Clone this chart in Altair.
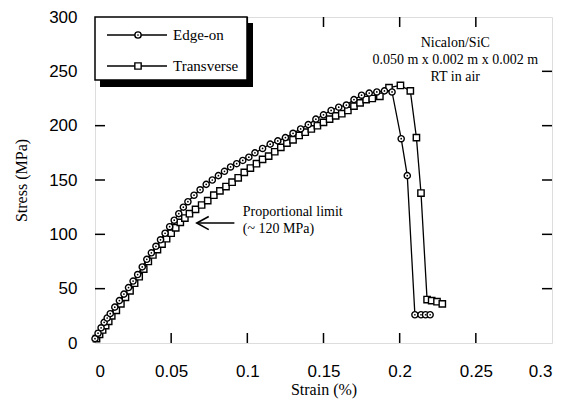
import altair as alt
import pandas as pd

# ---------------- data ----------------
edge_strain = [0.000, 0.002, 0.004, 0.006, 0.008, 0.010, 0.013, 0.016, 0.019, 0.022,
               0.025, 0.028, 0.031, 0.034, 0.037, 0.040, 0.043, 0.046, 0.049, 0.052,
               0.055, 0.058, 0.061, 0.065, 0.069, 0.073, 0.077, 0.081, 0.085, 0.089,
               0.093, 0.097, 0.101, 0.105, 0.110, 0.115, 0.120, 0.125, 0.130, 0.135,
               0.140, 0.145, 0.150, 0.155, 0.160, 0.165, 0.170, 0.175, 0.180, 0.185,
               0.190, 0.195, 0.201, 0.205, 0.210, 0.214, 0.217, 0.220]
edge_stress = [4, 9, 14, 19, 23, 27, 33, 39, 45, 51,
               57, 63, 70, 77, 83, 89, 95, 101, 107, 113,
               119, 125, 130, 136, 141, 146, 150, 154, 158, 162,
               165, 168, 171, 175, 179, 183, 186, 189, 193, 197,
               201, 206, 210, 214, 217, 219, 224, 228, 230, 231,
               232, 231, 188, 154, 26, 26, 26, 26]

trans_strain = [0.001, 0.003, 0.005, 0.007, 0.009, 0.011, 0.014, 0.017, 0.020, 0.023,
                0.026, 0.029, 0.032, 0.035, 0.038, 0.041, 0.044, 0.047, 0.050, 0.053,
                0.056, 0.059, 0.062, 0.066, 0.070, 0.074, 0.078, 0.082, 0.086, 0.090,
                0.094, 0.098, 0.102, 0.106, 0.110, 0.114, 0.118, 0.122, 0.126, 0.130,
                0.134, 0.138, 0.142, 0.146, 0.150, 0.154, 0.158, 0.162, 0.166, 0.170,
                0.174, 0.178, 0.182, 0.187, 0.193, 0.2005, 0.207, 0.211, 0.214, 0.218,
                0.221, 0.2245, 0.228]
trans_stress = [4, 8, 12, 16, 20, 25, 30, 36, 42, 48,
                55, 61, 68, 75, 81, 86, 91, 96, 101, 106,
                111, 115, 119, 123, 127, 131, 136, 140, 144, 148,
                152, 157, 161, 165, 169, 172, 176, 180, 184, 187,
                191, 194, 197, 200, 203, 206, 209, 211, 214, 218,
                221, 224, 225, 227, 235, 237, 232, 189, 138, 40,
                39, 38, 36]

series_names = ["Edge-on", "Transverse"]
x_tick_labels = [0, 0.05, 0.1, 0.15, 0.2, 0.25, 0.3]
y_tick_labels = [0, 50, 100, 150, 200, 250, 300]
x_inner_ticks = [0.05, 0.1, 0.15, 0.2, 0.25]
y_inner_ticks = [50, 100, 150, 200, 250]
info_lines = ["Nicalon/SiC", "0.050 m x 0.002 m x 0.002 m", "RT in air"]
info_anchor = [0.2365, 276.0]         # strain, stress of the first line (centre)
note_lines = ["Proportional limit", "(~ 120 MPa)"]
note_anchor = [0.097, 120.6]          # strain, stress of the first line (left edge)
arrow_from = [0.0915, 110.4]
arrow_to = [0.0668, 110.4]

W, H = 457, 326
SERIF = "Liberation Serif"
SANS = "Liberation Sans"

edge_df = pd.DataFrame({"strain": edge_strain, "stress": edge_stress,
                        "i": range(len(edge_strain))})
trans_df = pd.DataFrame({"strain": trans_strain, "stress": trans_stress,
                         "i": range(len(trans_strain))})

xscale = alt.Scale(domain=[0, 0.3], nice=False, zero=False)
yscale = alt.Scale(domain=[0, 300], nice=False, zero=False)
xaxis = alt.Axis(values=x_tick_labels, format=".2~f", ticks=False, domain=False,
                 grid=False, labelFont=SANS, labelFontSize=17, labelColor="black",
                 labelPadding=20, title="Strain (%)", titleFont=SERIF,
                 titleFontSize=16, titleFontWeight="normal", titleColor="black",
                 titlePadding=2)
yaxis = alt.Axis(values=y_tick_labels, ticks=False, domain=False, grid=False,
                 labelFont=SANS, labelFontSize=17, labelColor="black",
                 labelPadding=18, title="Stress (MPa)", titleFont=SERIF,
                 titleFontSize=16, titleFontWeight="normal", titleColor="black",
                 titlePadding=19)


def X(f):
    return alt.X(f, type="quantitative", scale=xscale, axis=xaxis)


def Y(f):
    return alt.Y(f, type="quantitative", scale=yscale, axis=yaxis)


one = alt.Data(values=[{"a": 1}])

# ---------- data series ----------
trans_line = alt.Chart(trans_df).mark_line(color="black", strokeWidth=1.3).encode(
    x=X("strain"), y=Y("stress"), order="i:Q")
trans_pts = alt.Chart(trans_df).mark_point(
    shape="square", filled=True, fill="white", stroke="black", strokeWidth=1.4,
    size=40, opacity=1).encode(x=X("strain"), y=Y("stress"))

edge_line = alt.Chart(edge_df).mark_line(color="black", strokeWidth=1.3).encode(
    x=X("strain"), y=Y("stress"), order="i:Q")
edge_pts = alt.Chart(edge_df).mark_point(
    shape="circle", filled=True, fill="white", stroke="black", strokeWidth=1.4,
    size=38, opacity=1).encode(x=X("strain"), y=Y("stress"))
edge_dots = alt.Chart(edge_df).mark_point(
    shape="circle", filled=True, color="black", size=3, opacity=1).encode(
    x=X("strain"), y=Y("stress"))

# ---------- inward ticks on all four sides ----------
xt = pd.DataFrame({"v": x_inner_ticks})
yt = pd.DataFrame({"v": y_inner_ticks})
tick_style = dict(color="black", strokeWidth=1.5)
bottom_ticks = alt.Chart(xt).mark_rule(**tick_style).encode(
    x=X("v"), y=alt.value(H), y2=alt.value(H - 10))
top_ticks = alt.Chart(xt).mark_rule(**tick_style).encode(
    x=X("v"), y=alt.value(0), y2=alt.value(10))
left_ticks = alt.Chart(yt).mark_rule(**tick_style).encode(
    y=Y("v"), x=alt.value(0), x2=alt.value(10))
right_ticks = alt.Chart(yt).mark_rule(**tick_style).encode(
    y=Y("v"), x=alt.value(W), x2=alt.value(W - 10))

# ---------- legend box with drop shadow ----------
shadow = alt.Chart(one).mark_rect(color="black").encode(
    x=alt.value(5), x2=alt.value(158), y=alt.value(6), y2=alt.value(70))
box = alt.Chart(one).mark_rect(fill="white", stroke="black", strokeWidth=1.5).encode(
    x=alt.value(0), x2=alt.value(152), y=alt.value(0), y2=alt.value(63))

legend_layers = []
for name, ly, shp in [(series_names[0], 18, "circle"), (series_names[1], 49, "square")]:
    legend_layers.append(alt.Chart(one).mark_rule(color="black", strokeWidth=1.3).encode(
        x=alt.value(12), x2=alt.value(72), y=alt.value(ly)))
    legend_layers.append(alt.Chart(one).mark_point(
        shape=shp, filled=True, fill="white", stroke="black", strokeWidth=1.4,
        size=40, opacity=1).encode(x=alt.value(43), y=alt.value(ly)))
    if shp == "circle":
        legend_layers.append(alt.Chart(one).mark_point(
            shape="circle", filled=True, color="black", size=3, opacity=1).encode(
            x=alt.value(43), y=alt.value(ly)))
    legend_layers.append(alt.Chart(one).mark_text(
        align="left", baseline="middle", font=SERIF, fontSize=15, color="black").encode(
        x=alt.value(78), y=alt.value(ly), text=alt.value(name)))

# ---------- annotations ----------
info = alt.Chart(pd.DataFrame({"strain": [info_anchor[0]], "stress": [info_anchor[1]]})).mark_text(
    align="center", baseline="middle", font=SERIF, fontSize=14, lineHeight=17,
    color="black").encode(x=X("strain"), y=Y("stress"), text=alt.value(info_lines))

note = alt.Chart(pd.DataFrame({"strain": [note_anchor[0]], "stress": [note_anchor[1]]})).mark_text(
    align="left", baseline="middle", font=SERIF, fontSize=14, lineHeight=17,
    color="black").encode(x=X("strain"), y=Y("stress"), text=alt.value(note_lines))

arrow_df = pd.DataFrame({"strain": [arrow_from[0]], "stress": [arrow_from[1]],
                         "strain2": [arrow_to[0]]})
arrow_shaft = alt.Chart(arrow_df).mark_rule(color="black", strokeWidth=1.5).encode(
    x=X("strain"), x2="strain2", y=Y("stress"))
arrow_head = alt.Chart(pd.DataFrame({"strain": [arrow_to[0]], "stress": [arrow_to[1]]})).mark_point(
    shape="M 1 -0.55 L 0 0 L 1 0.55", size=576, filled=False, stroke="black",
    strokeWidth=1.6, opacity=1).encode(x=X("strain"), y=Y("stress"))

chart = alt.layer(
    bottom_ticks, top_ticks, left_ticks, right_ticks,
    trans_line, trans_pts, edge_line, edge_pts, edge_dots,
    shadow, box, *legend_layers,
    info, note, arrow_shaft, arrow_head,
).properties(
    width=W, height=H,
    autosize=alt.AutoSizeParams(type="none"),
    padding={"left": 87, "top": 9, "right": 12, "bottom": 58},
).configure_view(
    stroke="black", strokeWidth=1.5
).configure(background="white")

chart.save("out.html", embed_options={"renderer": "svg", "actions": False})
